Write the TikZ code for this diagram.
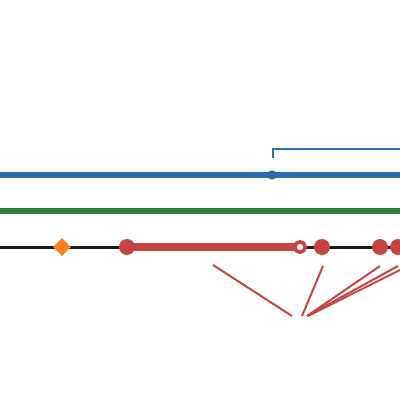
\documentclass[tikz,border=0pt]{standalone}
\usepackage{xcolor}
\usetikzlibrary{shapes.geometric,positioning}
\definecolor{trackblue}{HTML}{2E6DB0}
\definecolor{trackgreen}{HTML}{2E7D40}
\definecolor{trackred}{HTML}{C5443F}
\definecolor{markorange}{HTML}{FB7F1A}
\definecolor{trackblack}{HTML}{1A1A1A}

\begin{document}
\begin{tikzpicture}[x=0.25mm, y=-0.25mm,
    dot/.style={circle, fill=#1, inner sep=0pt, minimum size=4mm},
    ring/.style={circle, draw=trackred, fill=white, line width=0.9mm, inner sep=0pt, minimum size=2.6mm},
    callout/.style={trackred, line width=0.5mm}]
    \useasboundingbox (0,0) rectangle (400,400);
    \clip (0,0) rectangle (400,400);

    % Blue track with marker and bracket
    \draw[trackblue, line width=1.3mm] (0,175) -- (400,175);
    \node[dot=trackblue, minimum size=2.4mm] (bdot) at (272,175) {};
    \coordinate (bkfoot) at (273,158);
    \coordinate (bkend) at (400,149);
    \draw[trackblue, line width=0.5mm] (bkfoot) |- (bkend);

    % Green track
    \draw[trackgreen, line width=1.3mm] (0,211) -- (400,211);

    % Black track
    \draw[trackblack, line width=0.75mm] (0,247) -- (400,247);
    \node[diamond, fill=markorange, inner sep=0pt, minimum size=4.5mm] (dia) at (62,247) {};
    \node[dot=trackred] (r1) at (127,247) {};
    \coordinate (ropos) at (300,247);
    \draw[trackred, line width=2mm] (r1.center) -- (ropos);
    \node[ring] (ro) at (ropos) {};
    \node[dot=trackred] (r2) at (322,247) {};
    \node[dot=trackred] (r3) at (380,247) {};
    \node[dot=trackred] (r4) at (398,247) {};

    % Callout lines
    \coordinate (s1) at (213,265);
    \coordinate (s2) at (323,266);
    \coordinate (s3) at (380,266);
    \coordinate (s4) at (398,266);
    \coordinate (s5) at (408,266);
    \coordinate (e1) at (292,316);
    \coordinate (e2) at (302,316);
    \coordinate (e3) at (307,316);
    \coordinate (e4) at (307,316);
    \coordinate (e5) at (308,316);
    \foreach \i in {1,...,5}
        \draw[callout] (s\i) -- (e\i);
\end{tikzpicture}
\end{document}
